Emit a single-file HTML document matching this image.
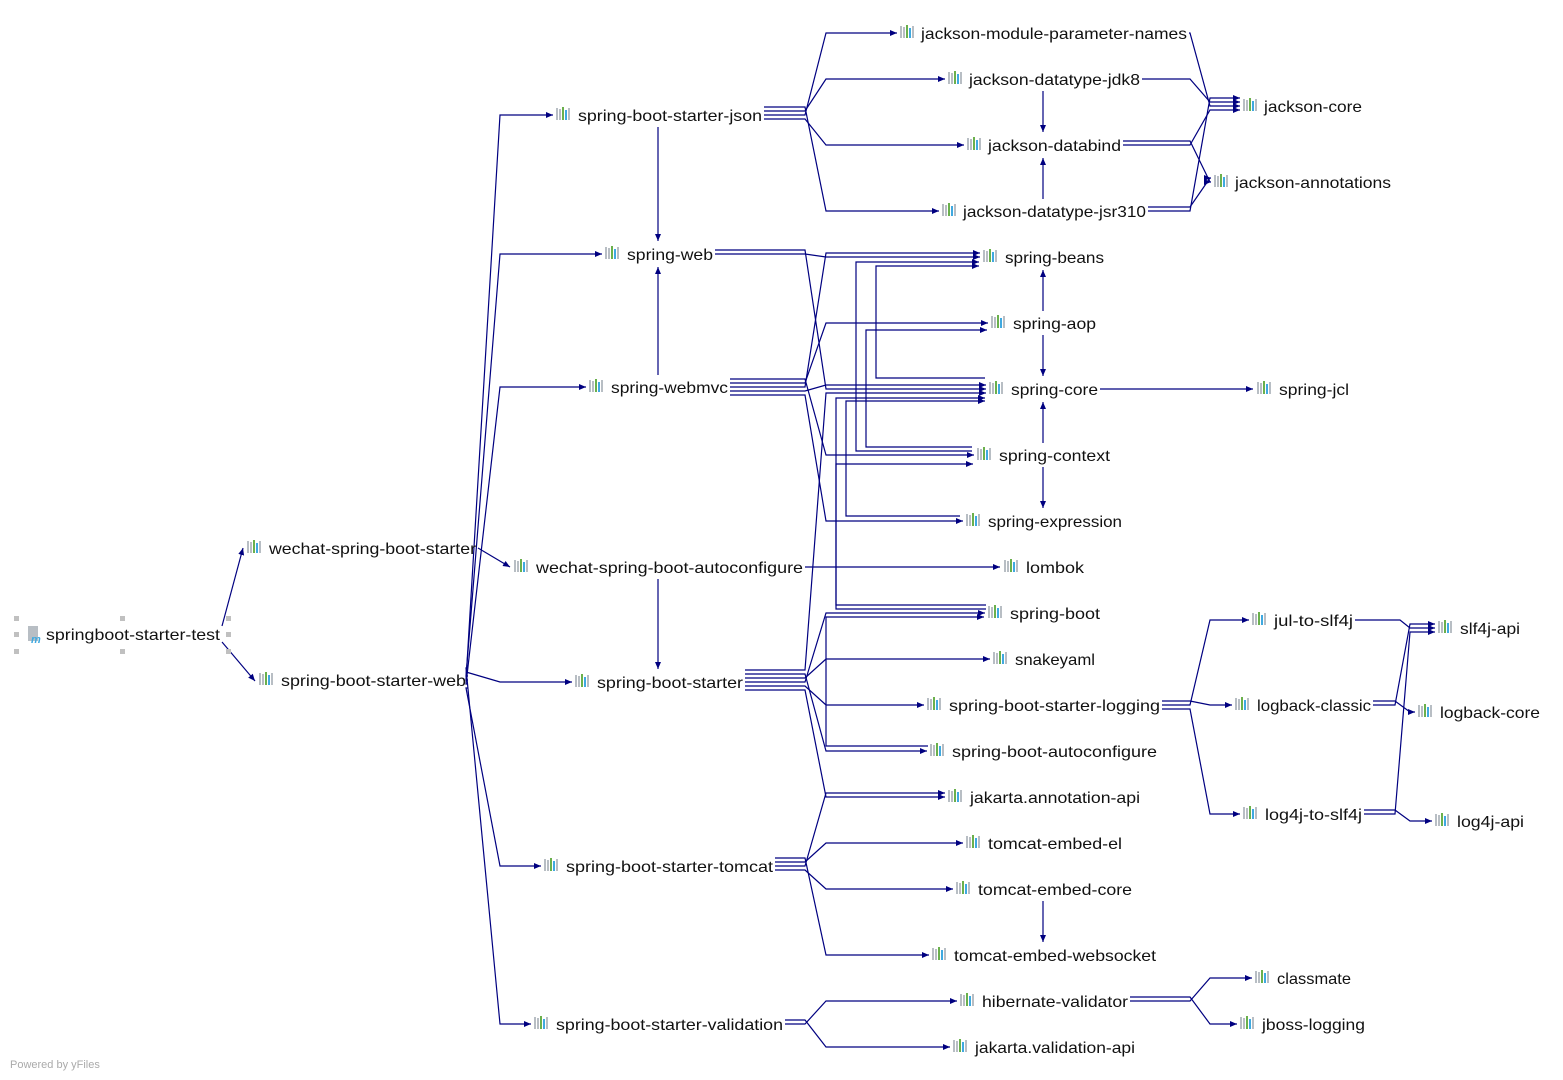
<!DOCTYPE html>
<html><head><meta charset="utf-8">
<style>
html,body{margin:0;padding:0;background:#fff;width:1563px;height:1080px;overflow:hidden}
svg{display:block}
text{font-family:"Liberation Sans",sans-serif;font-size:16px;fill:#111}
</style></head>
<body>
<svg id="s" width="1563" height="1080" viewBox="0 0 1563 1080">
<defs>
<marker id="a" markerWidth="8" markerHeight="8" refX="7" refY="4" orient="auto" markerUnits="userSpaceOnUse">
<path d="M0,1 L7,4 L0,7 z" fill="#000080"/></marker>
<g id="ic">
<rect x="0" y="-6" width="2" height="12" fill="#b8bec4"/>
<rect x="3" y="-5" width="2" height="11" fill="#b8bec4"/>
<rect x="6" y="-7" width="2" height="13" fill="#6ab04c"/>
<rect x="9" y="-4" width="2" height="10" fill="#3fa9e0"/>
<rect x="12" y="-6" width="2" height="12" fill="#b8bec4"/>
</g>
</defs>
<g id="edges" fill="none" stroke="#000080" stroke-width="1.2"></g>
<g id="nodes"></g>
<g fill="#c0c0c0">
<rect x="14" y="616" width="5" height="5"/><rect x="120" y="616" width="5" height="5"/><rect x="226" y="616" width="5" height="5"/>
<rect x="14" y="632" width="5" height="5"/><rect x="226" y="632" width="5" height="5"/>
<rect x="14" y="649" width="5" height="5"/><rect x="120" y="649" width="5" height="5"/><rect x="226" y="649" width="5" height="5"/>
</g>
<g>
<rect x="28" y="626" width="10" height="15" fill="#b8bec4"/>
<text x="31" y="643" style="font-size:11px;font-style:italic;font-weight:bold;fill:#3fa9e0">m</text>
</g>
<text x="10" y="1068" style="font-size:11px;fill:#aaa">Powered by yFiles</text>
</svg>
<script>
var N={
test:[null,46,634,220],
wsb:[247,269,548,476],
web:[259,281,680,466],
json:[556,578,115,762],
sweb:[605,627,254,713],
mvc:[589,611,387,728],
wac:[514,536,567,803],
sbs:[575,597,682,743],
tom:[544,566,866,773],
val:[534,556,1024,783],
jmp:[900,921,33,1187],
jdk8:[948,969,79,1140],
jdb:[967,988,145,1121],
jsr:[942,963,211,1146],
jcore:[1243,1264,106,1362],
jann:[1214,1235,182,1391],
beans:[983,1005,257,1104],
aop:[991,1013,323,1096],
core:[989,1011,389,1098],
jcl:[1257,1279,389,1349],
ctx:[977,999,455,1110],
exp:[966,988,521,1122],
lombok:[1004,1026,567,1084],
sb:[988,1010,613,1100],
yaml:[993,1015,659,1095],
log:[927,949,705,1160],
ac:[930,952,751,1157],
jaa:[948,970,797,1140],
el:[966,988,843,1122],
tcore:[956,978,889,1132],
ws:[932,954,955,1156],
hib:[960,982,1001,1128],
jva:[953,975,1047,1135],
cm:[1255,1277,978,1351],
jb:[1240,1262,1024,1365],
jul:[1252,1274,620,1353],
slf:[1438,1460,628,1520],
lbc:[1235,1257,705,1371],
lbcore:[1418,1440,712,1540],
l4s:[1243,1265,814,1362],
l4a:[1435,1457,821,1524]};
var L={test:"springboot-starter-test",wsb:"wechat-spring-boot-starter",web:"spring-boot-starter-web",json:"spring-boot-starter-json",sweb:"spring-web",mvc:"spring-webmvc",wac:"wechat-spring-boot-autoconfigure",sbs:"spring-boot-starter",tom:"spring-boot-starter-tomcat",val:"spring-boot-starter-validation",jmp:"jackson-module-parameter-names",jdk8:"jackson-datatype-jdk8",jdb:"jackson-databind",jsr:"jackson-datatype-jsr310",jcore:"jackson-core",jann:"jackson-annotations",beans:"spring-beans",aop:"spring-aop",core:"spring-core",jcl:"spring-jcl",ctx:"spring-context",exp:"spring-expression",lombok:"lombok",sb:"spring-boot",yaml:"snakeyaml",log:"spring-boot-starter-logging",ac:"spring-boot-autoconfigure",jaa:"jakarta.annotation-api",el:"tomcat-embed-el",tcore:"tomcat-embed-core",ws:"tomcat-embed-websocket",hib:"hibernate-validator",jva:"jakarta.validation-api",cm:"classmate",jb:"jboss-logging",jul:"jul-to-slf4j",slf:"slf4j-api",lbc:"logback-classic",lbcore:"logback-core",l4s:"log4j-to-slf4j",l4a:"log4j-api"};
var ns="http://www.w3.org/2000/svg";
var gn=document.getElementById("nodes"),ge=document.getElementById("edges");
for(var k in N){var n=N[k];
 if(n[0]!==null){var u=document.createElementNS(ns,"use");u.setAttribute("href","#ic");u.setAttribute("x",n[0]);u.setAttribute("y",n[2]-1);gn.appendChild(u);}
 var t=document.createElementNS(ns,"text");t.setAttribute("x",n[1]);t.setAttribute("y",n[2]+6);
 t.setAttribute("textLength",n[3]-n[1]);t.setAttribute("lengthAdjust","spacingAndGlyphs");t.textContent=L[k];gn.appendChild(t);}
function P(d){var p=document.createElementNS(ns,"path");p.setAttribute("d",d);p.setAttribute("marker-end","url(#a)");ge.appendChild(p);}
var cnt={};
function off(k){cnt[k]=(cnt[k]||0)+1;var c=cnt[k];return (c%2?1:-1)*Math.floor(c/2)*4;}
function E(s,t,a,b){var S=N[s],T=N[t];var y1=S[2]+off(s+"o"),y2=T[2]+off(t+"i");
 var x1=S[3]+2,x2=T[0]-3;
 P("M"+x1+","+y1+" H"+a+" L"+b+","+y2+" H"+x2);}
function V(s,t,x){var S=N[s],T=N[t];var y1=S[2]+(T[2]>S[2]?12:-12),y2=T[2]+(T[2]>S[2]?-13:13);P("M"+x+","+y1+" V"+y2);}
P("M222,626 L243,548");P("M222,642 L255,681");P("M478,548 L510,567");
["json","sweb","mvc","sbs","tom","val"].forEach(function(t){E("web",t,466,500);});
["jmp","jdk8","jdb","jsr"].forEach(function(t){E("json",t,805,826);});
V("json","sweb",658);V("mvc","sweb",658);V("wac","sbs",658);
["beans","core"].forEach(function(t){E("sweb",t,805,826);});
["beans","aop","core","ctx","exp"].forEach(function(t){E("mvc",t,805,826);});
P("M805,567 H1000");
["sb","yaml","log","ac","jaa","core"].forEach(function(t){E("sbs",t,805,826);});
["jaa","el","tcore","ws"].forEach(function(t){E("tom",t,805,826);});
["hib","jva"].forEach(function(t){E("val",t,805,826);});
["jmp","jdk8","jdb","jsr"].forEach(function(t){E(t,"jcore",1190,1210);});
["jdb","jsr"].forEach(function(t){E(t,"jann",1190,1210);});
V("jdk8","jdb",1043);V("jsr","jdb",1043);
V("aop","beans",1043);V("aop","core",1043);V("ctx","core",1043);V("ctx","exp",1043);V("tcore","ws",1043);
P("M1100,389 H1253");
P("M972,447 H866 V330 H987");P("M972,451 H856 V262 H979");P("M960,516 H846 V401 H985");
P("M985,378 H876 V266 H979");P("M986,605 H836 V398 H985");P("M986,609 H836 V464 H973");P("M928,746 H826 V617 H984");
E("hib","cm",1190,1210);E("hib","jb",1190,1210);
["jul","lbc","l4s"].forEach(function(t){E("log",t,1190,1210);});
E("jul","slf",1400,1410);E("lbc","slf",1395,1410);E("l4s","slf",1395,1410);E("lbc","lbcore",1395,1410);E("l4s","l4a",1395,1410);
</script>
</body></html>
